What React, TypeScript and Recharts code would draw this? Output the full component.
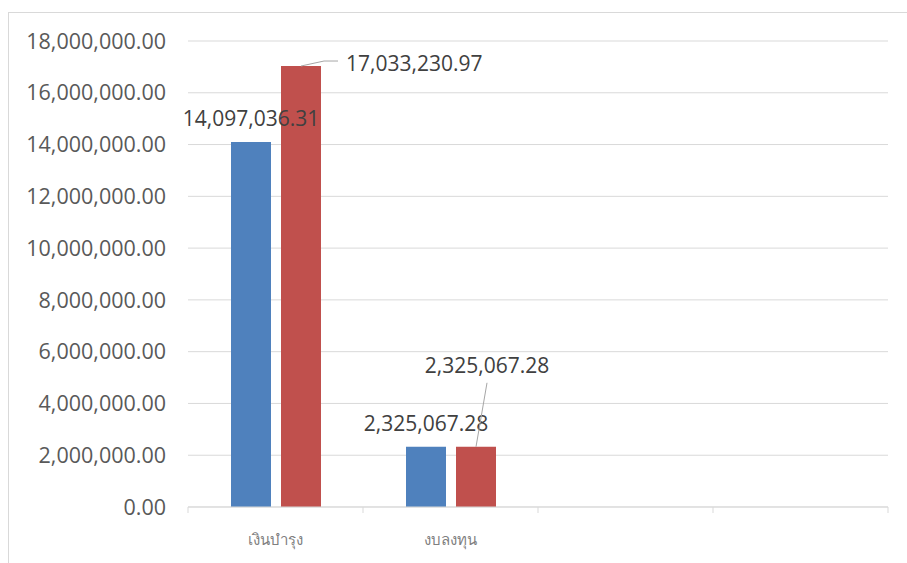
import { BarChart, Bar, XAxis, YAxis, CartesianGrid, LabelList } from "recharts";

const categories = ["เงินบำรุง", "งบลงทุน", "", ""];
const blueValues = [14097036.31, 2325067.28, null, null];
const redValues = [17033230.97, 2325067.28, null, null];
const yTicks = [0, 2000000, 4000000, 6000000, 8000000, 10000000, 12000000, 14000000, 16000000, 18000000];

const data = categories.map((name, i) => ({
  name,
  blue: blueValues[i],
  red: redValues[i],
}));

const CHART_W = 898;
const CHART_H = 550;
const MARGIN = { top: 28, right: 19, left: 0, bottom: 16 };
const Y_W = 179;
const BAND = (CHART_W - MARGIN.left - MARGIN.right - Y_W) / categories.length;

const FONT = "'Open Sans', 'DejaVu Sans', sans-serif";
const GRID = "#d9d9d9";

const fmt = (v: number) =>
  v.toLocaleString("en-US", { minimumFractionDigits: 2, maximumFractionDigits: 2 });

function CatTick(props: any) {
  const { x, y, payload, index } = props;
  const half = BAND / 2;
  return (
    <g>
      <line x1={x - half} x2={x - half} y1={y} y2={y + 6} stroke={GRID} />
      {index === categories.length - 1 && (
        <line x1={x + half} x2={x + half} y1={y} y2={y + 6} stroke={GRID} />
      )}
      <text
        x={x}
        y={y + 38}
        textAnchor="middle"
        fill="#7f7f7f"
        fontSize={15}
        fontFamily={FONT}
      >
        {categories[index] ?? payload.value}
      </text>
    </g>
  );
}

// red labels sit off to the side with a leader line, like the excel original
function RedLabel(props: any) {
  const { x, y, width, value, index } = props;
  if (value == null) return null;
  const cx = x + width / 2;
  if (index === 0) {
    return (
      <g>
        <polyline
          points={`${cx},${y} ${cx + 23},${y - 5} ${cx + 37},${y - 5}`}
          fill="none"
          stroke="#a6a6a6"
        />
        <text x={cx + 45} y={y + 5} fill="#404040" fontSize={21} fontFamily={FONT}>
          {fmt(value)}
        </text>
      </g>
    );
  }
  return (
    <g>
      <line x1={cx} y1={y} x2={cx + 11} y2={y - 64} stroke="#a6a6a6" />
      <text
        x={cx + 11}
        y={y - 74}
        textAnchor="middle"
        fill="#404040"
        fontSize={21}
        fontFamily={FONT}
      >
        {fmt(value)}
      </text>
    </g>
  );
}

export default function App() {
  return (
    <div
      style={{
        position: "fixed",
        left: 8,
        top: 12,
        width: CHART_W + 1,
        height: CHART_H + 1,
        borderLeft: `1px solid ${GRID}`,
        borderTop: `1px solid ${GRID}`,
        background: "#fff",
        fontFamily: FONT,
      }}
    >
      <BarChart
        width={CHART_W}
        height={CHART_H}
        data={data}
        margin={MARGIN}
        barSize={40}
        barGap={10}
      >
        <CartesianGrid vertical={false} stroke={GRID} />
        <XAxis
          dataKey="name"
          height={40}
          axisLine={{ stroke: GRID }}
          tickLine={false}
          tickSize={0}
          tickMargin={0}
          interval={0}
          tick={<CatTick />}
        />
        <YAxis
          width={Y_W}
          domain={[0, 18000000]}
          ticks={yTicks}
          axisLine={false}
          tickLine={false}
          tickSize={0}
          tickMargin={22}
          tickFormatter={fmt}
          tick={{ fill: "#595959", fontSize: 21.5, fontFamily: FONT }}
        />
        <Bar dataKey="blue" fill="#4f81bd" isAnimationActive={false}>
          <LabelList
            dataKey="blue"
            position="top"
            offset={16}
            formatter={(v: any) => (v == null ? "" : fmt(v))}
            fill="#404040"
            fontSize={21}
            fontFamily={FONT}
          />
        </Bar>
        <Bar dataKey="red" fill="#c0504d" isAnimationActive={false}>
          <LabelList dataKey="red" content={<RedLabel />} />
        </Bar>
      </BarChart>
    </div>
  );
}
